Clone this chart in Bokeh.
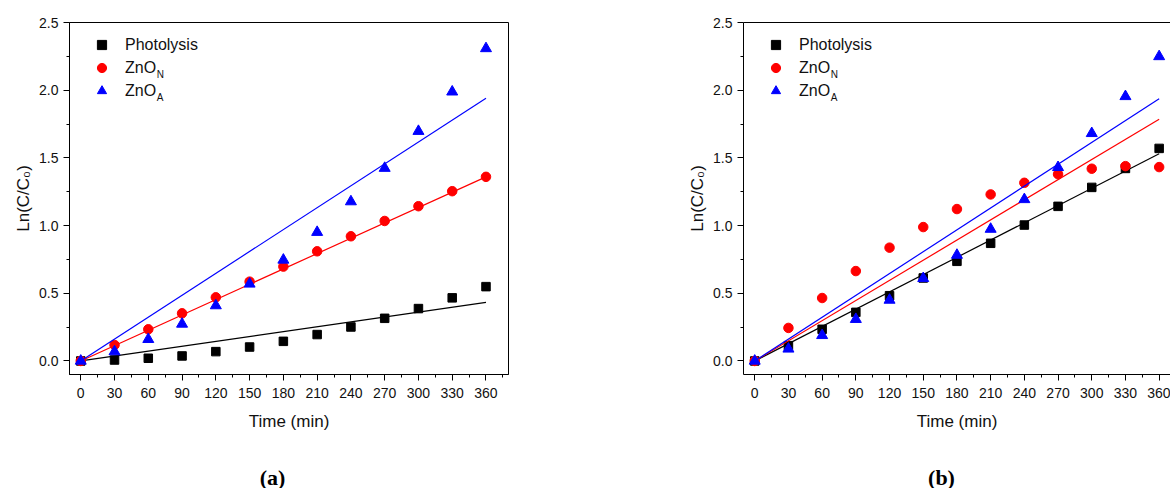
from bokeh.plotting import figure
from bokeh.models import (Range1d, FixedTicker, Legend, LegendItem, Label,
                          LinearAxis, NumeralTickFormatter)
from bokeh.layouts import row, column
from bokeh.embed import file_html
from bokeh.resources import INLINE

# ---------------- data ----------------
time_min = [0, 30, 60, 90, 120, 150, 180, 210, 240, 270, 300, 330, 360]

a_photolysis = [0.0, 0.007, 0.02, 0.037, 0.069, 0.103, 0.145, 0.195, 0.251, 0.315, 0.387, 0.466, 0.549]
a_zno_n = [0.0, 0.118, 0.234, 0.352, 0.470, 0.586, 0.697, 0.810, 0.921, 1.034, 1.143, 1.254, 1.360]
a_zno_a = [0.0, 0.069, 0.160, 0.273, 0.409, 0.569, 0.746, 0.951, 1.177, 1.424, 1.697, 1.988, 2.308]
a_fit_end = [0.433, 1.360, 1.941]   # fitted line value at 360 min

b_photolysis = [0.0, 0.113, 0.234, 0.359, 0.482, 0.613, 0.736, 0.869, 1.004, 1.142, 1.282, 1.422, 1.570]
b_zno_n = [0.0, 0.244, 0.465, 0.664, 0.837, 0.989, 1.122, 1.230, 1.316, 1.380, 1.420, 1.439, 1.432]
b_zno_a = [0.0, 0.089, 0.189, 0.308, 0.450, 0.610, 0.782, 0.974, 1.193, 1.430, 1.681, 1.954, 2.249]
b_fit_end = [1.531, 1.786, 1.937]

series_names = ["Photolysis", "ZnO", "ZnO"]
series_subs = ["", "N", "A"]
series_colors = ["#000000", "#ff0000", "#0000ff"]
series_markers = ["square", "circle", "triangle"]
series_sizes = [8.5, 9.5, 11]

x_ticks = [0, 30, 60, 90, 120, 150, 180, 210, 240, 270, 300, 330, 360]
x_minor = [15, 45, 75, 105, 135, 165, 195, 225, 255, 285, 315, 345, 375]
y_ticks = [0.0, 0.5, 1.0, 1.5, 2.0, 2.5]
y_minor = [0.25, 0.75, 1.25, 1.75, 2.25]

FONT = "Liberation Sans"
TXT = "#111111"
PLOT_H = 455
CAP_H = 33


def style_axis(ax):
    ax.axis_line_color = "#000000"
    ax.axis_line_width = 1
    ax.major_tick_out = 6
    ax.major_tick_in = 0
    ax.minor_tick_out = 3
    ax.minor_tick_in = 0
    ax.major_tick_line_color = "#000000"
    ax.minor_tick_line_color = "#000000"
    ax.major_label_text_font = FONT
    ax.major_label_text_font_size = "14px"
    ax.major_label_text_color = TXT
    ax.axis_label_text_font = FONT
    ax.axis_label_text_font_size = "17px"
    ax.axis_label_text_font_style = "normal"
    ax.axis_label_text_color = TXT


def make_panel(series, fit_end, x_end, frame_w, b_left, b_top, b_right, full_box):
    frame_h = 352
    p = figure(frame_width=frame_w, frame_height=frame_h,
               x_range=Range1d(-10, x_end), y_range=Range1d(-0.1, 2.5),
               min_border_left=b_left, min_border_right=b_right,
               min_border_top=b_top, min_border_bottom=PLOT_H - b_top - frame_h,
               output_backend="svg", toolbar_location=None)
    p.xgrid.visible = False
    p.ygrid.visible = False
    p.background_fill_color = "white"
    p.border_fill_color = "white"

    xa = p.below[0]
    xa.ticker = FixedTicker(ticks=x_ticks, minor_ticks=x_minor)
    style_axis(xa)
    xa.major_label_standoff = 7
    xa.axis_label_standoff = 11
    xa.axis_label = "Time (min)"

    ya = p.left[0]
    ya.ticker = FixedTicker(ticks=y_ticks, minor_ticks=y_minor)
    ya.formatter = NumeralTickFormatter(format="0.0")
    style_axis(ya)
    ya.major_label_standoff = 5
    ya.axis_label_standoff = 3
    ya.axis_label = "Ln(C/C\u2080)"

    if full_box:
        p.outline_line_color = "#000000"
        p.outline_line_width = 1
    else:
        p.outline_line_color = None
        top = LinearAxis(ticker=FixedTicker(ticks=[], minor_ticks=[]),
                         major_label_text_font_size="0px")
        top.axis_line_color = "#000000"
        top.major_tick_line_color = None
        top.minor_tick_line_color = None
        p.add_layout(top, "above")

    items = []
    for i, ys in enumerate(series):
        c = series_colors[i]
        p.line([time_min[0], time_min[-1]], [0, fit_end[i]], line_color=c, line_width=1.2)
        r = p.scatter(time_min, ys, marker=series_markers[i], size=series_sizes[i],
                      fill_color=c, line_color=c)
        items.append(LegendItem(label=series_names[i], renderers=[r]))

    # legend layout
    lg_x, gw, gh, stand = 21, 23, 23, 12
    lg_top = 11.3
    lg_y = frame_h - lg_top - gh * len(items)
    leg = Legend(items=items, location=(lg_x, lg_y), padding=0, margin=0, spacing=0,
                 glyph_width=gw, glyph_height=gh, label_height=gh, label_standoff=stand,
                 label_text_font=FONT, label_text_font_size="16px", label_text_color=TXT,
                 border_line_color=None, background_fill_alpha=0)
    p.add_layout(leg)
    for i, sub in enumerate(series_subs):
        if not sub:
            continue
        row_center = frame_h - lg_top - gh * (i + 0.5)
        p.add_layout(Label(x=lg_x + gw + stand + 31.2, y=row_center - 6.5,
                           x_units="screen", y_units="screen", text=sub,
                           text_font=FONT, text_font_size="10px", text_color=TXT,
                           text_baseline="middle", text_align="left"))
    return p


def make_caption(text, width, cx):
    c = figure(width=width, height=CAP_H, min_border=0, x_axis_location=None,
               y_axis_location=None, x_range=Range1d(0, 1), y_range=Range1d(0, 1),
               output_backend="svg", toolbar_location=None)
    c.grid.visible = False
    c.outline_line_color = None
    c.border_fill_color = "white"
    c.add_layout(Label(x=cx, y=CAP_H - 21.5, x_units="screen", y_units="screen",
                       text=text, text_font="Liberation Serif", text_font_style="bold",
                       text_font_size="22px", text_color="#000000",
                       text_align="center", text_baseline="middle"))
    return c


p1 = make_panel([a_photolysis, a_zno_n, a_zno_a], a_fit_end, 380, 439, 69, 22, 166, True)
p2 = make_panel([b_photolysis, b_zno_n, b_zno_a], b_fit_end, 370.1, 427, 69, 21, 0, False)
c1 = make_caption("(a)", 674, 272)
c2 = make_caption("(b)", 496, 267)

layout = column(row(p1, p2, spacing=0), row(c1, c2, spacing=0), spacing=0)
open("out.html", "w").write(file_html(layout, INLINE))
